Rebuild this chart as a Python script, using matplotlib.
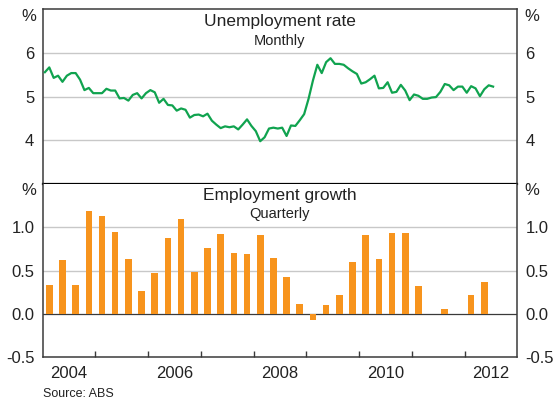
import matplotlib
matplotlib.use("Agg")
import matplotlib.pyplot as plt
import numpy as np

plt.rcParams['font.family'] = ['Liberation Sans', 'DejaVu Sans']

# Unemployment rate, monthly, Jan 2004 - Jul 2012 (%)
unemp = [5.56, 5.67, 5.43, 5.48, 5.34, 5.48, 5.54, 5.54, 5.39, 5.15, 5.20, 5.08,
         5.08, 5.08, 5.18, 5.14, 5.14, 4.96, 4.97, 4.91, 5.04, 5.08, 4.96, 5.08,
         5.15, 5.10, 4.86, 4.95, 4.81, 4.80, 4.68, 4.73, 4.70, 4.52, 4.58, 4.59,
         4.55, 4.61, 4.45, 4.36, 4.28, 4.32, 4.30, 4.32, 4.25, 4.36, 4.48, 4.33,
         4.21, 3.98, 4.07, 4.27, 4.29, 4.27, 4.29, 4.10, 4.34, 4.33, 4.46, 4.60,
         4.95, 5.37, 5.73, 5.54, 5.79, 5.88, 5.75, 5.75, 5.73, 5.65, 5.58, 5.52,
         5.30, 5.33, 5.40, 5.48, 5.19, 5.20, 5.33, 5.09, 5.11, 5.27, 5.14, 4.92,
         5.05, 5.02, 4.95, 4.95, 4.98, 4.99, 5.11, 5.29, 5.26, 5.15, 5.23, 5.23,
         5.09, 5.24, 5.19, 5.01, 5.17, 5.26, 5.23]

# Employment growth, quarterly, Q1 2004 - Q2 2012 (%)
emp_growth = [0.33, 0.62, 0.33, 1.19, 1.13, 0.95, 0.63, 0.26,
              0.47, 0.88, 1.10, 0.48, 0.76, 0.92, 0.70, 0.69,
              0.91, 0.65, 0.43, 0.12, -0.07, 0.10, 0.22, 0.60,
              0.91, 0.63, 0.93, 0.94, 0.32, 0.0, 0.06, 0.0,
              0.22, 0.37]

start_year = 2004
year_labels = ['2004', '2006', '2008', '2010', '2012']
top_ticks = [4, 5, 6]
bottom_ticks = [-0.5, 0.0, 0.5, 1.0]

GREEN = '#10a34f'
ORANGE = '#f7941d'
GRID = '#c8c8c8'
FRAME = '#3a3a3a'
TEXT = '#222222'

x_month = start_year + (np.arange(len(unemp)) + 0.5) / 12
x_quarter = start_year + (np.arange(len(emp_growth)) + 0.5) / 4

fig = plt.figure(figsize=(5.53, 4.03), dpi=100)
left, width = 0.0772, 0.8582
ax1 = fig.add_axes([left, 0.5434, width, 0.4335])
ax2 = fig.add_axes([left, 0.1134, width, 0.4300])

xmin, xmax = 2004, 2013

for ax in (ax1, ax2):
    ax.set_xlim(xmin, xmax)
    for side in ('left', 'right', 'top', 'bottom'):
        ax.spines[side].set_color(FRAME)
        ax.spines[side].set_linewidth(1.1)
    ax.tick_params(axis='y', which='both', length=0, labelsize=12,
                   labelcolor=TEXT, pad=6, labelleft=True, labelright=True)

# --- верхняя панель: безработица ---
ax1.set_ylim(3, 7)
ax1.set_yticks(top_ticks)
ax1.set_yticklabels([str(t) for t in top_ticks])
for t in top_ticks:
    ax1.axhline(t, color=GRID, lw=1.0, zorder=1)
ax1.plot(x_month, unemp, color=GREEN, lw=1.6, zorder=3)
ax1.set_xticks([])
ax1.spines['bottom'].set_color('black')
ax1.spines['bottom'].set_linewidth(1.6)
ax1.text(0.5, 0.975, 'Unemployment rate', transform=ax1.transAxes,
         ha='center', va='top', fontsize=12.5, color=TEXT)
ax1.text(0.5, 0.86, 'Monthly', transform=ax1.transAxes,
         ha='center', va='top', fontsize=10.5, color=TEXT)

# --- нижняя панель: рост занятости ---
ax2.set_ylim(-0.5, 1.5)
ax2.set_yticks(bottom_ticks)
ax2.set_yticklabels(['%.1f' % t for t in bottom_ticks])
for t in [0.5, 1.0]:
    ax2.axhline(t, color=GRID, lw=1.0, zorder=1)
ax2.axhline(0.0, color=FRAME, lw=0.9, zorder=1)
ax2.bar(x_quarter, emp_growth, width=0.125, color=ORANGE, zorder=3)
ax2.spines['top'].set_visible(False)
ax2.text(0.5, 0.975, 'Employment growth', transform=ax2.transAxes,
         ha='center', va='top', fontsize=12.5, color=TEXT)
ax2.text(0.5, 0.865, 'Quarterly', transform=ax2.transAxes,
         ha='center', va='top', fontsize=10.5, color=TEXT)

# границы лет — внутренние засечки, подписи по центру года
ax2.set_xticks(np.arange(xmin + 1, xmax))
ax2.set_xticklabels([])
ax2.tick_params(axis='x', which='major', direction='in', length=4.5,
                width=1.0, color=FRAME)
ax2.set_xticks([int(y) + 0.5 for y in year_labels], minor=True)
ax2.set_xticklabels(year_labels, minor=True)
ax2.tick_params(axis='x', which='minor', length=0, labelsize=12,
                labelcolor=TEXT, pad=6)

# значки % с обеих сторон
for y in (0.959, 0.527):
    fig.text(0.052, y, '%', ha='center', va='center', fontsize=12, color=TEXT)
    fig.text(0.962, y, '%', ha='center', va='center', fontsize=12, color=TEXT)

fig.text(left, 0.008, 'Source: ABS', ha='left', va='bottom', fontsize=9,
         color=TEXT)

plt.savefig('out.png', dpi=100)
